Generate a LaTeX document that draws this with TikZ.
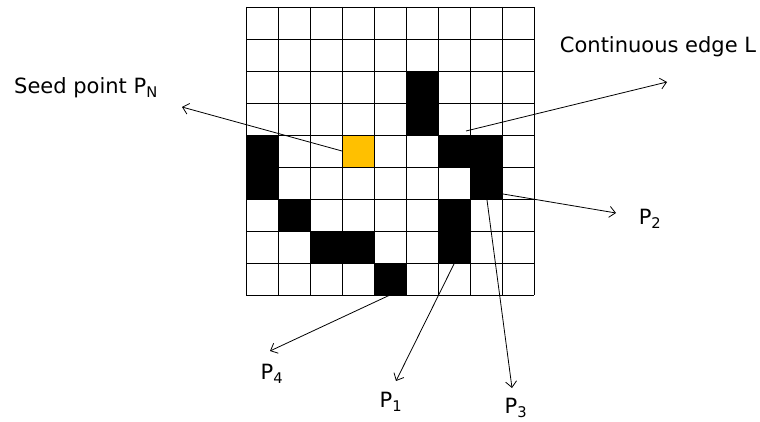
\documentclass[tikz,border=0pt]{standalone}
\usepackage{fontspec}
\setmainfont{DejaVu Sans}
\usetikzlibrary{arrows.meta}
\definecolor{seedyellow}{RGB}{255,192,0}

\begin{document}
\begin{tikzpicture}[x=1pt, y=-1pt, >={Straight Barb[length=6pt,width=11pt]},
    lbl/.style={font=\fontsize{21}{24}\selectfont, inner sep=1pt}]
  \useasboundingbox (0,0) rectangle (760,422);
  % edge cells (column/row, counted from the top left)
  \foreach \c/\r in {5/2,5/3,0/4,6/4,7/4,0/5,7/5,1/6,6/6,2/7,3/7,6/7,4/8}
    \fill (246+32*\c,7+32*\r) rectangle +(32,32);
  % seed cell
  \fill[seedyellow] (246+32*3,7+32*4) rectangle +(32,32);
  % 9x9 grid
  \foreach \i in {0,...,9} {
    \draw[line width=0.9pt] (246+32*\i,7) -- (246+32*\i,295);
    \draw[line width=0.9pt] (246,7+32*\i) -- (534,7+32*\i);
  }
  % labels
  \node[lbl] (seed) at (86,88) {Seed point P\textsubscript{N}};
  \node[lbl] (edge) at (658,47) {Continuous edge L};
  \node[lbl] (p2) at (650,219) {P\textsubscript{2}};
  \node[lbl] (p3) at (516,408) {P\textsubscript{3}};
  \node[lbl] (p1) at (391,402) {P\textsubscript{1}};
  \node[lbl] (p4) at (272,374) {P\textsubscript{4}};
  % arrow ends
  \coordinate (seedin) at (342,151);
  \coordinate (seedout) at (182,107);
  \coordinate (edgein) at (466,131);
  \coordinate (edgeout) at (667,82);
  \coordinate (p2in) at (503,194);
  \coordinate (p2out) at (616,213);
  \coordinate (p3in) at (487,200);
  \coordinate (p3out) at (512,388);
  \coordinate (p1in) at (454,264);
  \coordinate (p1out) at (396,381);
  \coordinate (p4in) at (390,295);
  \coordinate (p4out) at (270,351);
  \foreach \a in {seed,edge,p2,p3,p1,p4}
    \draw[->, line width=0.8pt] (\a in) -- (\a out);
\end{tikzpicture}
\end{document}
